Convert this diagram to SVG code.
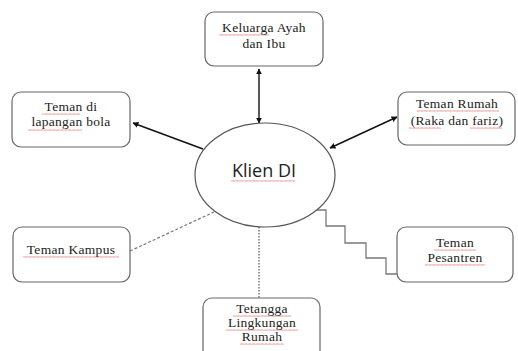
<svg xmlns="http://www.w3.org/2000/svg" width="518" height="351" viewBox="0 0 518 351">
<style>
.box{fill:#fff;stroke:#666;stroke-width:1.2}
.t{font-family:"Liberation Serif","Times New Roman",serif;font-size:13.5px;letter-spacing:0.3px;fill:#222;text-anchor:middle}
.c{font-family:"Open Sans","Noto Sans","Liberation Sans",sans-serif;font-size:18px;fill:#222;text-anchor:middle}
.arr{stroke:#111;stroke-width:1.4;fill:none}
.sq{fill:url(#wavy)}
</style>
<defs>
<marker id="ah" viewBox="0 0 10 10" refX="9" refY="5" markerWidth="6" markerHeight="6" markerUnits="userSpaceOnUse" orient="auto-start-reverse">
<path d="M0,0 L10,5 L0,10 Z" fill="#111"/>
</marker>
<pattern id="wavy" width="4" height="2" patternUnits="userSpaceOnUse">
<path d="M0,1.5 L1,0.5 L2,1.5 L3,0.5 L4,1.5" fill="none" stroke="#d33" stroke-width="0.6"/>
</pattern>
</defs>
<rect width="518" height="351" fill="#fff"/>
<g id="connectors">
<line class="arr" x1="259" y1="69" x2="259" y2="123" stroke-width="2" marker-start="url(#ah)" marker-end="url(#ah)"/>
<line class="arr" x1="203" y1="149" x2="133" y2="123" marker-end="url(#ah)"/>
<line class="arr" x1="397" y1="117" x2="330" y2="148" marker-start="url(#ah)" marker-end="url(#ah)"/>
<line x1="130" y1="251" x2="214" y2="212" stroke="#777" stroke-width="1.2" stroke-dasharray="3,2"/>
<line x1="259" y1="227" x2="259" y2="298" stroke="#777" stroke-width="1.5" stroke-dasharray="1.5,1.5"/>
<polyline points="315,210 326,210 326,226 345,226 345,243 366,243 366,258 386,258 386,274 397,274" fill="none" stroke="#7a7a7a" stroke-width="1.3"/>
</g>
<g id="klien">
<ellipse cx="265" cy="175" rx="70" ry="52" fill="#fff" stroke="#555" stroke-width="1.2"/>
<text class="c" x="264" y="177">Klien DI</text>
<rect class="sq" x="231" y="180" width="64" height="2"/>
</g>
<g id="keluarga">
<rect class="box" x="205" y="12" width="118" height="54" rx="9"/>
<text class="t" x="264" y="32">Keluarga Ayah</text>
<text class="t" x="264" y="48">dan Ibu</text>
<rect class="sq" x="219" y="34" width="50" height="2"/>
</g>
<g id="lapangan">
<rect class="box" x="12" y="92" width="118" height="55" rx="9"/>
<text class="t" x="71" y="111">Teman di</text>
<text class="t" x="71" y="126">lapangan bola</text>
<rect class="sq" x="42" y="113" width="38" height="2"/>
<rect class="sq" x="28" y="129" width="54" height="2"/>
</g>
<g id="rumah">
<rect class="box" x="398" y="92" width="117" height="53" rx="9"/>
<text class="t" x="457" y="108">Teman Rumah</text>
<text class="t" x="457" y="125">(Raka dan fariz)</text>
<rect class="sq" x="417" y="110" width="82" height="2"/>
<rect class="sq" x="409" y="127" width="32" height="2"/>
<rect class="sq" x="470" y="127" width="32" height="2"/>
</g>
<g id="kampus">
<rect class="box" x="13" y="227" width="117" height="55" rx="9"/>
<text class="t" x="71" y="254">Teman Kampus</text>
<rect class="sq" x="23" y="256" width="96" height="2"/>
</g>
<g id="pesantren">
<rect class="box" x="397" y="227" width="116" height="55" rx="9"/>
<text class="t" x="455" y="247">Teman</text>
<text class="t" x="455" y="262">Pesantren</text>
<rect class="sq" x="434" y="249" width="42" height="2"/>
<rect class="sq" x="425" y="264" width="60" height="2"/>
</g>
<g id="tetangga">
<rect class="box" x="203" y="298" width="117" height="62" rx="9"/>
<text class="t" x="262" y="313">Tetangga</text>
<text class="t" x="262" y="327">Lingkungan</text>
<text class="t" x="262" y="341">Rumah</text>
<rect class="sq" x="233" y="315" width="58" height="2"/>
<rect class="sq" x="226" y="329" width="72" height="2"/>
<rect class="sq" x="240" y="343" width="44" height="2"/>
</g>
</svg>
